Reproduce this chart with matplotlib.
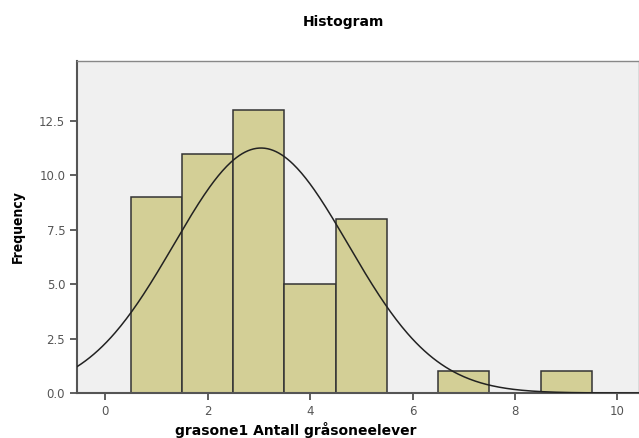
import numpy as np
import matplotlib.pyplot as plt

# Histogram data (values of grasone1 and their frequencies)
verdier = [1, 2, 3, 4, 5, 7, 9]
antall = [9, 11, 13, 5, 8, 1, 1]
xticks = [0, 2, 4, 6, 8, 10]
yticks = [0.0, 2.5, 5.0, 7.5, 10.0, 12.5]

n = sum(antall)
mean = np.average(verdier, weights=antall)
sd = np.sqrt(np.sum(np.array(antall) * (np.array(verdier) - mean) ** 2) / (n - 1))

fig = plt.figure(figsize=(6.39, 4.38), dpi=100)
ax = fig.add_axes([0.1205, 0.1027, 0.8795, 0.758])
ax.set_facecolor('#f0f0f0')

ax.bar(verdier, antall, width=1.0, color='#d3cf96', edgecolor='#333333', linewidth=1.1, zorder=2)

# normal curve
xs = np.linspace(-0.55, 10.45, 400)
ys = n / (sd * np.sqrt(2 * np.pi)) * np.exp(-0.5 * ((xs - mean) / sd) ** 2)
ax.plot(xs, ys, color='#222222', linewidth=1.1, zorder=3)

ax.set_xlim(-0.55, 10.42)
ax.set_ylim(0, 15.26)
ax.set_xticks(xticks)
ax.set_xticklabels([str(t) for t in xticks])
ax.set_yticks(yticks)
ax.set_yticklabels(['%.1f' % t for t in yticks])
ax.tick_params(axis='both', colors='#444444', labelcolor='#555555', labelsize=8.5,
               length=5, width=1.2, direction='out')

for side in ['top', 'right']:
    ax.spines[side].set_color('#888888')
    ax.spines[side].set_linewidth(1.0)
for side in ['left', 'bottom']:
    ax.spines[side].set_color('#555555')
    ax.spines[side].set_linewidth(1.5)

fig.text(0.537, 0.95, 'Histogram', ha='center', va='center', fontsize=10, fontweight='bold')
fig.text(0.463, 0.018, 'grasone1 Antall gråsoneelever', ha='center', va='center',
         fontsize=10, fontweight='bold')
fig.text(0.028, 0.482, 'Frequency', ha='center', va='center', rotation=90,
         fontsize=10, fontweight='bold', fontstretch='condensed')

fig.savefig('out.png', dpi=100)
